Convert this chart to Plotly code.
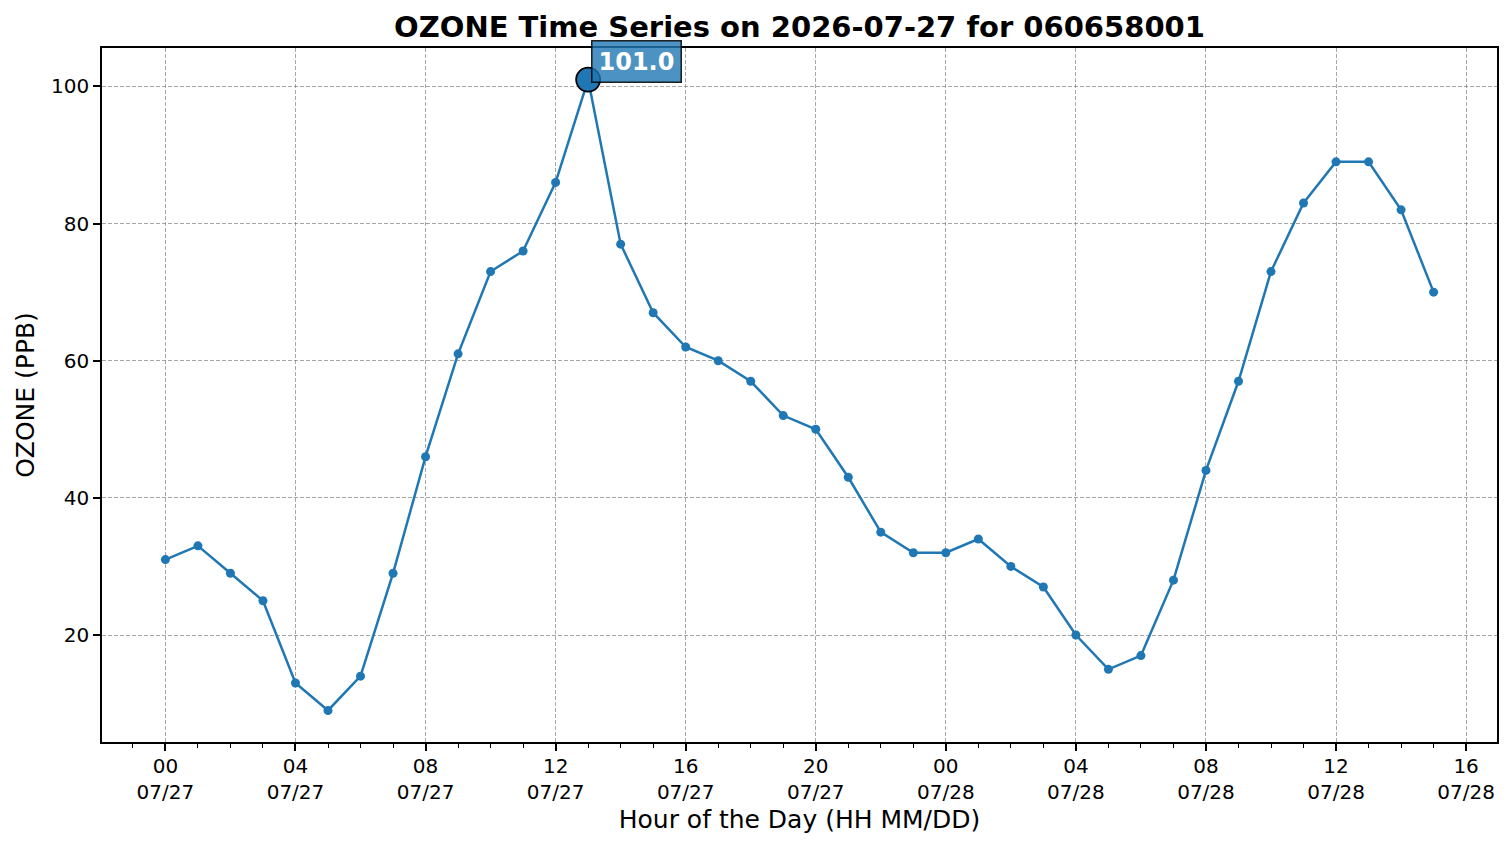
import pandas as pd
import plotly.graph_objects as go

start = "2026-07-27 00:00"
ozone = [31, 33, 29, 25, 13, 9, 14, 29, 46, 61, 73, 76, 86, 101, 77, 67, 62, 60, 57, 52,
         50, 43, 35, 32, 32, 34, 30, 27, 20, 15, 17, 28, 44, 57, 73, 83, 89, 89, 82, 70]
times = pd.date_range(start, periods=len(ozone), freq="h")
y_ticks = [20, 40, 60, 80, 100]

tick_times = pd.date_range("2026-07-27 00:00", "2026-07-28 16:00", freq="4h")
tick_text = [t.strftime("%H<br>%m/%d") for t in tick_times]
minor_times = pd.date_range("2026-07-26 22:00", "2026-07-28 16:00", freq="h")

imax = max(range(len(ozone)), key=lambda i: ozone[i])
span = times[-1] - times[0]
xr = [times[0] - span * 0.05, times[-1] + span * 0.05]
ymin, ymax = min(ozone), max(ozone)
yr = [ymin - (ymax - ymin) * 0.05, ymax + (ymax - ymin) * 0.05]

C = "#1f77b4"
fig = go.Figure()
fig.add_trace(go.Scatter(x=times, y=ozone, mode="lines+markers",
                         line=dict(color=C, width=2.5),
                         marker=dict(color=C, size=9), showlegend=False))
fig.add_trace(go.Scatter(x=[times[imax]], y=[ozone[imax]], mode="markers",
                         marker=dict(color=C, size=24, line=dict(color="black", width=1.8)),
                         showlegend=False))
fig.add_annotation(x=times[imax], y=ozone[imax], text="<b>%.1f</b>" % ozone[imax],
                   showarrow=False, xanchor="left", yanchor="bottom", xshift=3, yshift=-3,
                   font=dict(family="DejaVu Sans", size=24, color="white"),
                   bgcolor="rgba(31,119,180,0.8)", bordercolor="rgba(0,0,0,0.85)",
                   borderwidth=1.5, borderpad=6)

axis_common = dict(showline=True, linecolor="black", linewidth=1.6, mirror=True,
                   ticks="outside", ticklen=7, tickwidth=1.6, tickcolor="black",
                   showgrid=True, gridcolor="rgba(128,128,128,0.7)", gridwidth=0.8,
                   griddash="4px,2px", zeroline=False,
                   tickfont=dict(family="DejaVu Sans", size=20, color="black"))

fig.update_xaxes(**axis_common, type="date", range=xr, tickmode="array",
                 tickvals=tick_times, ticktext=tick_text, ticklabelstandoff=-2,
                 minor=dict(tickmode="array", tickvals=minor_times, ticks="outside",
                            ticklen=4, tickwidth=1.2, tickcolor="black", showgrid=False),
                 title=dict(text="Hour of the Day (HH MM/DD)", standoff=8,
                            font=dict(family="DejaVu Sans", size=25, color="black")))
fig.update_yaxes(**axis_common, range=yr, tickmode="array", tickvals=y_ticks,
                 title=dict(text="OZONE (PPB)", standoff=9,
                            font=dict(family="DejaVu Sans", size=25, color="black")))

fig.update_layout(
    width=1511, height=847, autosize=False,
    margin=dict(l=102, r=14, t=48, b=105),
    paper_bgcolor="white", plot_bgcolor="white",
    title=dict(text="<b>OZONE Time Series on 2026-07-27 for 060658001</b>",
               x=(102 + 1497) / 2 / 1511, xanchor="center", y=1 - 27 / 847, yanchor="middle",
               yref="container", font=dict(family="DejaVu Sans", size=29, color="black")),
)
fig.write_html("out.html")
